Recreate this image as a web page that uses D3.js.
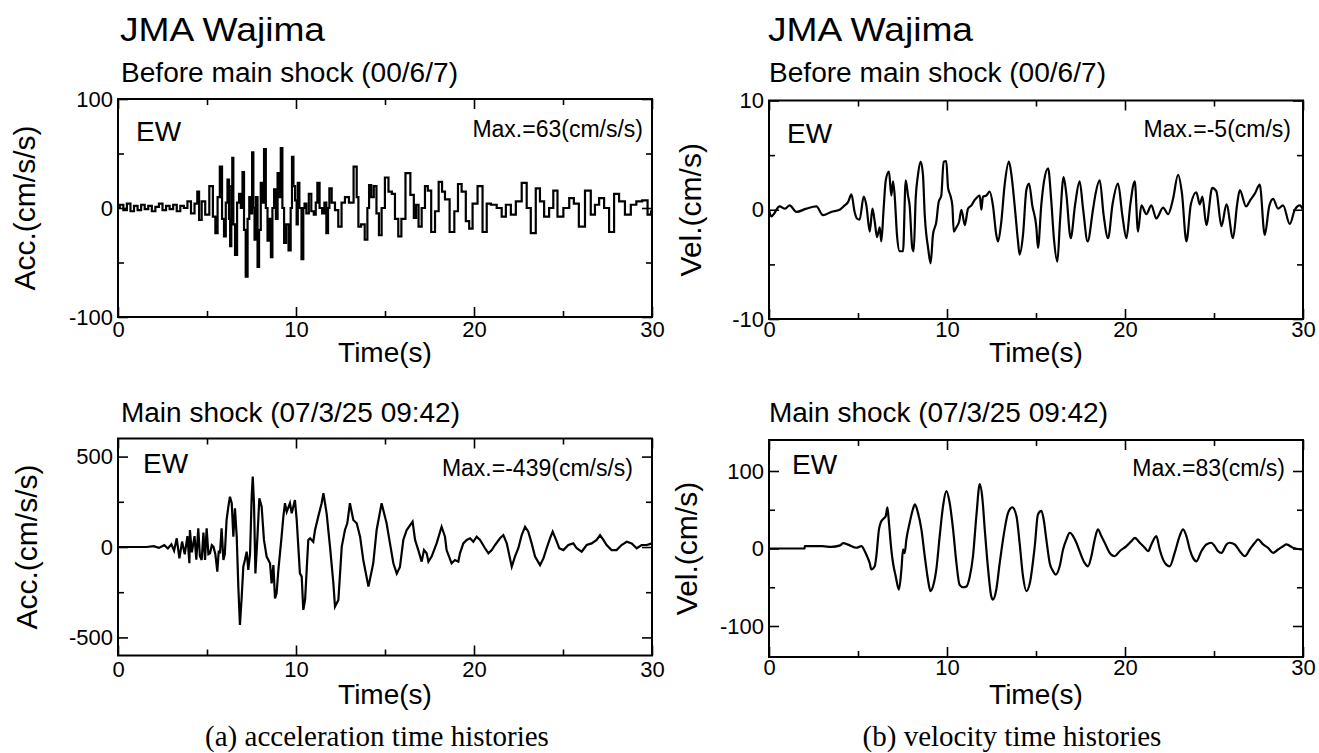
<!DOCTYPE html>
<html>
<head>
<meta charset="utf-8">
<script src="https://cdn.jsdelivr.net/npm/d3@7/dist/d3.min.js"></script>
<style>
  body { margin: 0; background: #fff; }
  svg text { font-family: "Liberation Sans", Arial, sans-serif; fill: #000; }
</style>
</head>
<body>
<script>
// values, [time (s), value]
const accBefore = [
  [0, 0], [0.2, 3], [0.4, -2], [0.6, 4], [0.8, -3], [1.0, 2], [1.2, -2], [1.4, 3], [1.6, -1], [1.8, 2],
  [2.0, -3], [2.2, 1], [2.4, 4], [2.6, -2], [2.8, 2], [3.0, -1], [3.2, 3], [3.4, -3], [3.6, 2], [3.8, 0],
  [4.0, 6], [4.2, -5], [4.4, 4], [4.51, 15], [4.6, -11], [4.8, 6], [5.0, -6], [5.26, 20], [5.4, -8], [5.54, -23],
  [5.65, 10], [5.79, 38], [5.9, -10], [6.01, -26], [6.1, 5], [6.2, 26], [6.27, -10], [6.33, -35], [6.4, 20], [6.44, 46],
  [6.52, -15], [6.63, -43], [6.75, 5], [6.85, 13], [6.95, 0], [7.04, 33], [7.12, -20], [7.23, -63], [7.33, -10], [7.42, 10],
  [7.5, -5], [7.57, 51], [7.64, 0], [7.7, -29], [7.8, 10], [7.88, -54], [7.97, -20], [8.07, 23], [8.15, 5], [8.26, 54],
  [8.35, 0], [8.45, -30], [8.55, -10], [8.63, -45], [8.72, 0], [8.82, 17], [8.92, -10], [9.01, 32], [9.1, 10], [9.19, 55],
  [9.28, 0], [9.38, -32], [9.5, -15], [9.66, -39], [9.74, 0], [9.81, 47], [9.9, 20], [10.0, 7], [10.07, -15], [10.13, 23],
  [10.25, 0], [10.37, -47], [10.45, 0], [10.51, 4], [10.65, -5], [10.79, 13], [10.93, -3], [11.07, -6], [11.15, 5], [11.25, 23],
  [11.4, 0], [11.54, -5], [11.65, 5], [11.76, -23], [11.84, 0], [11.91, 18], [12.1, 5], [12.28, -2], [12.47, -17], [12.65, 5],
  [12.85, 10], [13.1, 5], [13.37, 38], [13.45, 10], [13.56, -17], [13.75, -15], [13.97, -29], [14.05, 0], [14.16, 21], [14.3, 10],
  [14.44, 20], [14.6, -5], [14.72, -25], [14.9, 0], [15.09, 28], [15.3, 15], [15.47, 13], [15.65, -10], [15.84, -26], [16.0, -10],
  [16.3, 32], [16.55, 12], [16.69, -9], [16.8, 3], [16.97, -17], [17.15, 0], [17.34, 20], [17.47, 16], [17.72, -22], [17.9, -3],
  [18.13, 24], [18.28, 15], [18.46, 8], [18.8, -22], [18.99, -3], [19.21, 22], [19.4, 15], [19.68, -12], [19.78, -19], [20.06, 4],
  [20.34, 20], [20.62, -22], [20.81, 4], [21.09, 3], [21.46, 0], [21.65, -8], [21.93, 3], [22.21, -6], [22.49, 6], [22.87, 23],
  [23.05, 0], [23.33, -23], [23.61, 18], [23.8, 6], [24.08, -8], [24.36, 0], [24.55, 16], [24.83, -8], [25.21, 0], [25.49, 9],
  [25.73, 4], [26.05, -17], [26.42, 16], [26.7, -6], [26.89, 3], [27.17, 9], [27.45, 0], [27.73, -22], [28.01, 13], [28.29, 6],
  [28.67, -6], [28.95, 3], [29.29, 6], [29.61, 7], [29.89, -6], [30, -3]
];

const accMain = [
  [0, 0], [1.6, 0], [2.0, 5], [2.3, -5], [2.6, 10], [2.8, -8], [3.0, 15], [3.15, -20], [3.3, 48], [3.45, -63],
  [3.6, 30], [3.75, -40], [3.9, 60], [4.01, -90], [4.04, 94], [4.15, -30], [4.3, 60], [4.4, -70], [4.51, 103], [4.6, -50],
  [4.7, -72], [4.8, 80], [4.89, -72], [4.98, 103], [5.08, -40], [5.17, -35], [5.27, 10], [5.36, 2], [5.47, -40], [5.58, -136],
  [5.66, -20], [5.73, -35], [5.82, 103], [5.92, -72], [6.0, -40], [6.1, 150], [6.2, 223], [6.29, 278], [6.39, 242], [6.48, 57],
  [6.57, 214], [6.67, 57], [6.76, -219], [6.85, -431], [6.95, -275], [7.04, -109], [7.13, -72], [7.23, -26], [7.32, -127], [7.42, -35],
  [7.51, 278], [7.57, 389], [7.64, 242], [7.72, -146], [7.83, 50], [7.94, 269], [8.07, 223], [8.2, 39], [8.35, -53], [8.54, -90],
  [8.63, -201], [8.73, -100], [8.82, -284], [8.91, -256], [9.01, -127], [9.19, 57], [9.29, 168], [9.38, 242], [9.48, 195], [9.66, 242],
  [9.76, 186], [9.94, 260], [10.04, 149], [10.13, 2], [10.22, -146], [10.32, -164], [10.41, -348], [10.51, -293], [10.6, -127], [10.69, 39],
  [10.79, 48], [10.97, 29], [11.07, 94], [11.25, 168], [11.44, 242], [11.54, 297], [11.72, 186], [11.91, 2], [12.1, -201], [12.19, -330],
  [12.38, -293], [12.57, 2], [12.75, 94], [12.88, 131], [13.03, 242], [13.22, 149], [13.41, 131], [13.6, 57], [13.78, -72], [14.07, -219],
  [14.34, -90], [14.53, 94], [14.81, 242], [15.09, 131], [15.28, 20], [15.47, -90], [15.66, -147], [15.84, -110], [16.03, 40], [16.22, 94],
  [16.55, 140], [16.69, 39], [16.87, -17], [17.06, -81], [17.19, -17], [17.34, -35], [17.44, -81], [17.62, -53], [17.9, 20], [18.18, 112],
  [18.37, 57], [18.46, -17], [18.74, -90], [18.93, -72], [19.12, -81], [19.21, -35], [19.4, 20], [19.59, 39], [19.78, 48], [19.96, 29],
  [20.15, 57], [20.34, 39], [20.62, -7], [20.81, -35], [21.0, -17], [21.18, 11], [21.46, 48], [21.65, 66], [21.84, 20], [22.02, -63],
  [22.12, -109], [22.3, -53], [22.49, -7], [22.68, 66], [22.87, 112], [23.05, 85], [23.24, 20], [23.43, -53], [23.71, -100], [23.9, -63],
  [24.08, -7], [24.27, 48], [24.42, 85], [24.61, 39], [24.79, -7], [25.02, -17], [25.3, 11], [25.58, 20], [25.77, -7], [26.05, -26],
  [26.33, 11], [26.61, 20], [26.89, 39], [27.08, 66], [27.27, 39], [27.45, 11], [27.73, -17], [28.01, -17], [28.29, 11], [28.58, 29],
  [28.86, 20], [29.14, -7], [29.42, 11], [29.7, 11], [30, 20]
];

const velBefore = [
  [0, 0], [0.13, -0.6], [0.6, 0.3], [0.9, 0.1], [1.16, 0.4], [1.54, -0.2], [2.1, 0.1], [2.66, 0.3], [3.03, -0.5], [3.5, -0.2],
  [3.97, 0], [4.25, 0.4], [4.44, 0.7], [4.63, 1.4], [4.81, -0.2], [4.94, -0.8], [5.09, -0.9], [5.32, 1.2], [5.47, 0.4], [5.66, -2.0],
  [5.81, 0.1], [5.94, -1.1], [6.07, -2.5], [6.22, -1.6], [6.31, -2.9], [6.44, 0.1], [6.56, 2.7], [6.74, 3.5], [6.87, 1.3], [6.97, 2.6],
  [7.06, 1.3], [7.19, -2.3], [7.34, -3.8], [7.53, -3.8], [7.68, 2.7], [7.81, 1.3], [7.9, 0.4], [8.05, -3.5], [8.13, -3.8], [8.24, 1.0],
  [8.37, 3.2], [8.52, 4.4], [8.65, 3.2], [8.75, -0.5], [8.84, -2.3], [8.93, -3.4], [9.08, -4.9], [9.21, -2.3], [9.4, -1.1], [9.53, 0.7],
  [9.68, 1.3], [9.81, 4.4], [9.96, 4.45], [10.06, 2.0], [10.19, 1.3], [10.3, 0.4], [10.38, -2.0], [10.53, -1.6], [10.68, -1.1], [10.81, 0],
  [11.0, -1.4], [11.18, 0.1], [11.37, 0.4], [11.56, 0.9], [11.84, 1.3], [11.93, 0], [12.02, 1.2], [12.21, 1.3], [12.4, 1.65], [12.58, 0.4],
  [12.77, -2.3], [12.87, -2.9], [13.05, -1.1], [13.24, 2.3], [13.48, 4.4], [13.62, 3.2], [13.8, 0.4], [13.99, -2.9], [14.08, -4.1], [14.27, -2.3],
  [14.46, 1.8], [14.61, 2.4], [14.79, 0.4], [15.02, -1.6], [15.11, -3.5], [15.3, 0.5], [15.45, 2.6], [15.68, 3.8], [15.85, 1.0], [16.0, -2.5],
  [16.2, -4.75], [16.35, -1.0], [16.55, 3.0], [16.7, 1.5], [16.95, -2.6], [17.2, 0.5], [17.45, 2.6], [17.65, 0], [17.9, -2.9], [18.2, 0],
  [18.35, 1.5], [18.58, 2.7], [18.8, -0.5], [19.05, -2.6], [19.3, 0.5], [19.61, 2.4], [19.85, -0.5], [20.08, -2.6], [20.3, 0.5], [20.55, 2.6],
  [20.73, -2.0], [20.92, 0.4], [21.2, -0.4], [21.48, 0.4], [21.76, -0.8], [22.14, 0.2], [22.42, -0.4], [22.7, 1.0], [22.98, 3.2], [23.2, 1.5],
  [23.45, -2.9], [23.7, 0.5], [24.01, 1.6], [24.2, 0.5], [24.35, 1.2], [24.57, -1.4], [24.9, 2.0], [25.13, 1.7], [25.42, -1.5], [25.7, 0.5],
  [26.07, -2.6], [26.3, 0.5], [26.45, 1.8], [26.8, 0.3], [27.01, 0.8], [27.3, 1.5], [27.57, 2.3], [27.85, -2.3], [28.1, 0.3], [28.32, 1.0],
  [28.6, 0.1], [28.88, 0.4], [29.26, -1.3], [29.54, 0], [29.82, 0.4], [30, 0]
];

const velMain = [
  [0, 0], [2.0, 0], [2.01, 3], [3.0, 3], [3.5, 2], [4.0, 4], [4.16, 7], [4.44, 5], [4.91, 1], [5.19, 3],
  [5.38, -3.5], [5.51, -10], [5.66, -19], [5.75, -27], [5.94, -23], [6.03, -10], [6.18, 25], [6.27, 33], [6.41, 38], [6.56, 42],
  [6.65, 53], [6.74, 33], [6.87, -1], [6.97, -19], [7.12, -36], [7.3, -53], [7.44, -27], [7.53, -1], [7.62, -6], [7.72, 12],
  [7.9, 33], [8.09, 51], [8.2, 57], [8.37, 46], [8.56, 25], [8.75, -10], [8.93, -40], [9.07, -55], [9.21, -49], [9.4, -27],
  [9.59, 16], [9.78, 55], [9.96, 74], [10.15, 59], [10.34, 25], [10.53, -19], [10.71, -47], [10.9, -50], [11.09, -49], [11.28, -36],
  [11.46, -10], [11.65, 42], [11.84, 83], [11.99, 64], [12.12, 25], [12.31, -27], [12.49, -62], [12.58, -66], [12.77, -53], [12.96, -19],
  [13.24, 25], [13.43, 46], [13.67, 53], [13.9, 42], [14.08, 7], [14.27, -36], [14.46, -55], [14.65, -45], [14.93, 3], [15.11, 44],
  [15.3, 48.5], [15.43, 37.7], [15.58, 11.7], [15.77, -18.6], [15.96, -29.4], [16.11, -33.8], [16.33, -23], [16.52, -1.3], [16.71, 11.7], [16.9, 20.3],
  [17.08, 16], [17.27, 7.4], [17.45, -3.5], [17.73, -18.6], [17.92, -23], [18.11, -10], [18.3, 11.7], [18.48, 24.7], [18.67, 16], [18.86, 7.4],
  [19.14, -5.6], [19.42, -10], [19.7, -3.5], [20.08, 3], [20.36, 9.5], [20.55, 13.8], [20.83, 7.4], [21.11, 0.9], [21.3, -3.5], [21.48, 5.2],
  [21.76, 16], [21.95, -1.3], [22.14, -14.3], [22.32, -20.8], [22.51, -23], [22.79, -5.6], [23.07, 16], [23.26, 24.7], [23.45, 16], [23.64, -1.3],
  [23.82, -12.1], [24.01, -16.5], [24.29, -3.5], [24.57, 5.2], [24.85, 7.4], [25.04, 3], [25.23, -3.5], [25.42, -5.6], [25.7, 5.2], [25.88, 7.4],
  [26.17, 5.2], [26.45, -3.5], [26.73, -10], [27.01, -1.3], [27.29, 7.4], [27.47, 11.7], [27.76, 5.2], [28.04, 0.9], [28.32, -5.6], [28.6, -1.3],
  [28.88, 3], [29.07, 5.2], [29.44, 0.9], [29.91, -1.3], [30, 0]
];

const xMajor = [0, 10, 20, 30];
const xMinor = [5, 15, 25];

const titles = ["JMA Wajima", "JMA Wajima"];
const subtitles = ["Before main shock (00/6/7)", "Main shock (07/3/25 09:42)"];
const captions = ["(a) acceleration time histories", "(b) velocity time histories"];

const width = 1319, height = 753;
const svg = d3.select("body").append("svg")
    .attr("width", width)
    .attr("height", height);

// layout of the four boxes
const panels = [
    {data: accBefore, x0: 118, x1: 652, y0: 99, y1: 317, dom: [-100, 100], major: [-100, 0, 100], minor: [-50, 50],
        ylabel: "Acc.(cm/s/s)", ylabelX: 35, max: "Max.=63(cm/s/s)", maxY: 137, ewX: 136, ewY: 141, xlabBase: 337, timeBase: 362, curve: d3.curveStep},
    {data: velBefore, x0: 769, x1: 1303, y0: 100.5, y1: 319, dom: [-10, 10], major: [-10, 0, 10], minor: [-5, 5],
        ylabel: "Vel.(cm/s)", ylabelX: 701, max: "Max.=-5(cm/s)", maxY: 137, ewX: 787, ewY: 143, xlabBase: 337, timeBase: 362, curve: d3.curveMonotoneX},
    {data: accMain, x0: 118, x1: 652, y0: 438.5, y1: 655.5, dom: [-600, 600], major: [-500, 0, 500], minor: [-250, 250],
        ylabel: "Acc.(cm/s/s)", ylabelX: 37, max: "Max.=-439(cm/s/s)", maxY: 476, ewX: 143, ewY: 473, xlabBase: 677, timeBase: 704, curve: d3.curveLinear},
    {data: velMain, x0: 769, x1: 1303, y0: 440, y1: 657, dom: [-140, 140], major: [-100, 0, 100], minor: [-50, 50],
        ylabel: "Vel.(cm/s)", ylabelX: 697, max: "Max.=83(cm/s)", maxY: 476, ewX: 792, ewY: 474, xlabBase: 675, timeBase: 704, curve: d3.curveMonotoneX}
];

const maxRight = [643, 1291, 633, 1285];
const plain = d => String(d);   // ASCII hyphen for negatives, as in the original

panels.forEach(function (p, i) {
    const x = d3.scaleLinear().domain([0, 30]).range([p.x0, p.x1]);
    const y = d3.scaleLinear().domain(p.dom).range([p.y1, p.y0]);
    const g = svg.append("g");

    // trace
    const line = d3.line()
        .x(d => x(d[0]))
        .y(d => y(d[1]))
        .curve(p.curve);
    g.append("path")
        .datum(p.data)
        .attr("d", line)
        .attr("fill", "none")
        .attr("stroke", "#000")
        .attr("stroke-width", 2.2)
        .attr("stroke-linejoin", "miter");

    // ticks, all pointing inwards
    const fs = 22;
    const bottomAxis = d3.axisBottom(x).tickValues(xMajor).tickSize(-10).tickFormat(plain)
        .tickPadding(p.xlabBase - p.y1 - 0.71 * fs);
    const gb = g.append("g").attr("transform", "translate(0," + p.y1 + ")").call(bottomAxis);
    g.append("g").attr("transform", "translate(0," + p.y1 + ")")
        .call(d3.axisBottom(x).tickValues(xMinor).tickSize(-6).tickFormat(""));
    g.append("g").attr("transform", "translate(0," + p.y0 + ")")
        .call(d3.axisTop(x).tickValues(xMajor).tickSize(-10).tickFormat(""));
    g.append("g").attr("transform", "translate(0," + p.y0 + ")")
        .call(d3.axisTop(x).tickValues(xMinor).tickSize(-6).tickFormat(""));

    const leftAxis = d3.axisLeft(y).tickValues(p.major).tickSize(-10).tickPadding(5).tickFormat(plain);
    const gl = g.append("g").attr("transform", "translate(" + p.x0 + ",0)").call(leftAxis);
    g.append("g").attr("transform", "translate(" + p.x0 + ",0)")
        .call(d3.axisLeft(y).tickValues(p.minor).tickSize(-6).tickFormat(""));
    g.append("g").attr("transform", "translate(" + p.x1 + ",0)")
        .call(d3.axisRight(y).tickValues(p.major).tickSize(-10).tickFormat(""));
    g.append("g").attr("transform", "translate(" + p.x1 + ",0)")
        .call(d3.axisRight(y).tickValues(p.minor).tickSize(-6).tickFormat(""));

    g.selectAll(".domain").remove();
    g.selectAll(".tick line").attr("stroke", "#000").attr("stroke-width", 1.6);
    [gb, gl].forEach(a => a.selectAll("text")
        .attr("font-size", fs)
        .attr("font-family", "'Liberation Sans', Arial, sans-serif")
        .attr("fill", "#000"));
    g.selectAll("g").attr("font-family", null).attr("font-size", null);

    // frame
    g.append("rect")
        .attr("x", p.x0).attr("y", p.y0)
        .attr("width", p.x1 - p.x0).attr("height", p.y1 - p.y0)
        .attr("fill", "none").attr("stroke", "#000").attr("stroke-width", 2);

    // in-box labels
    g.append("text").attr("x", p.ewX).attr("y", p.ewY)
        .attr("font-size", 28).text("EW");
    g.append("text").attr("x", maxRight[i]).attr("y", p.maxY)
        .attr("font-size", 23).attr("text-anchor", "end").text(p.max);

    // axis titles
    g.append("text")
        .attr("x", (p.x0 + p.x1) / 2).attr("y", p.timeBase)
        .attr("text-anchor", "middle").attr("font-size", 28)
        .text("Time(s)");
    g.append("text")
        .attr("transform", "translate(" + p.ylabelX + "," + ((p.y0 + p.y1) / 2) + ") rotate(-90)")
        .attr("text-anchor", "middle").attr("font-size", 30)
        .text(p.ylabel);
});

// headings
[120, 768].forEach(function (lx, c) {
    svg.append("text").attr("x", lx).attr("y", 41)
        .attr("font-size", 33)
        .attr("textLength", 205).attr("lengthAdjust", "spacingAndGlyphs")
        .text(titles[c]);
    svg.append("text").attr("x", lx + 1).attr("y", 82)
        .attr("font-size", 27)
        .attr("textLength", 337).attr("lengthAdjust", "spacingAndGlyphs")
        .text(subtitles[0]);
    svg.append("text").attr("x", lx + 1).attr("y", 422)
        .attr("font-size", 27)
        .attr("textLength", 339).attr("lengthAdjust", "spacingAndGlyphs")
        .text(subtitles[1]);
});

// captions under each column
[377, 1012].forEach(function (cx, c) {
    svg.append("text").attr("x", cx).attr("y", 746)
        .attr("text-anchor", "middle")
        .style("font-family", "'Liberation Serif', 'Times New Roman', serif")
        .attr("font-size", 29)
        .text(captions[c]);
});
</script>
</body>
</html>
